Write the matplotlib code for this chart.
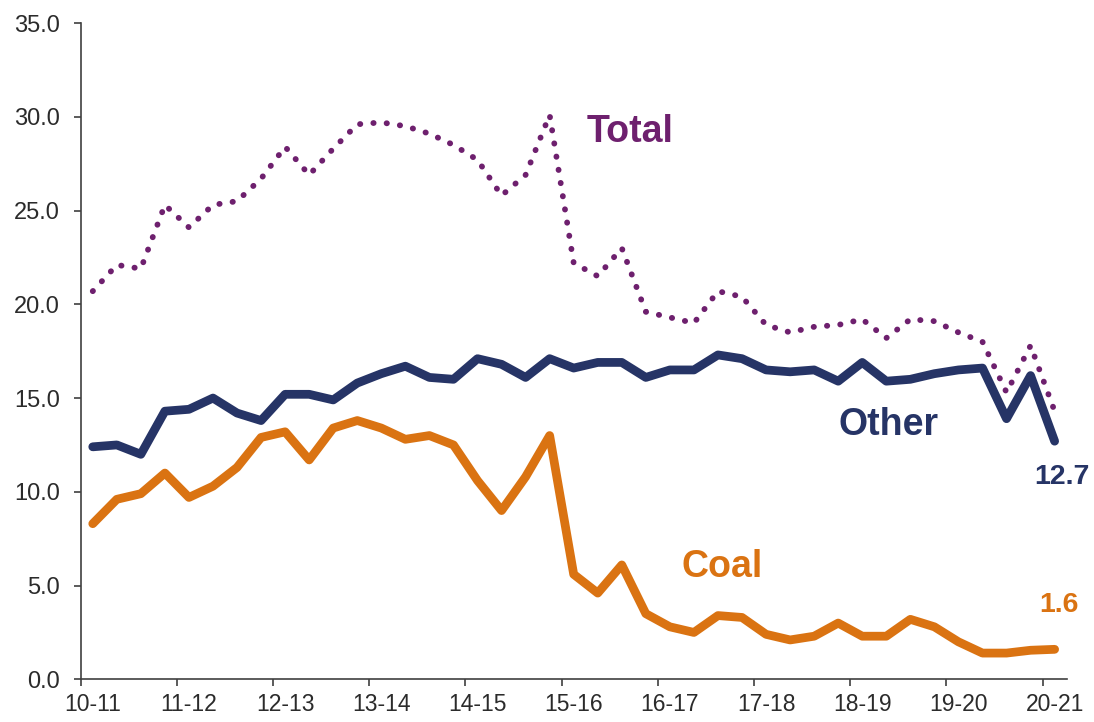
import numpy as np
import matplotlib.pyplot as plt

# quarterly values, 2010-11 Q1 to 2020-21 Q1
years = ['10-11', '11-12', '12-13', '13-14', '14-15', '15-16',
         '16-17', '17-18', '18-19', '19-20', '20-21']

coal = [8.3, 9.6, 9.9, 11.0, 9.7, 10.3, 11.3, 12.9, 13.2, 11.7,
        13.4, 13.8, 13.4, 12.8, 13.0, 12.5, 10.6, 9.0, 10.8, 13.0,
        5.6, 4.6, 6.1, 3.5, 2.8, 2.5, 3.4, 3.3, 2.4, 2.1,
        2.3, 3.0, 2.3, 2.3, 3.2, 2.8, 2.0, 1.4, 1.4, 1.55, 1.6]

other = [12.4, 12.5, 12.0, 14.3, 14.4, 15.0, 14.2, 13.8, 15.2, 15.2,
         14.9, 15.8, 16.3, 16.7, 16.1, 16.0, 17.1, 16.8, 16.1, 17.1,
         16.6, 16.9, 16.9, 16.1, 16.5, 16.5, 17.3, 17.1, 16.5, 16.4,
         16.5, 15.9, 16.9, 15.9, 16.0, 16.3, 16.5, 16.6, 13.9, 16.2, 12.7]

total = [20.7, 22.1, 21.9, 25.3, 24.1, 25.3, 25.5, 26.7, 28.4, 26.9,
         28.3, 29.6, 29.7, 29.5, 29.1, 28.5, 27.7, 25.8, 26.9, 30.1,
         22.2, 21.5, 23.0, 19.6, 19.3, 19.0, 20.7, 20.4, 18.9, 18.5,
         18.8, 18.9, 19.2, 18.2, 19.2, 19.1, 18.5, 18.0, 15.3, 17.8, 14.3]

c_coal = '#DA7312'
c_other = '#263466'
c_total = '#6E206E'
c_text = '#2b2b2b'

plt.rcParams['font.family'] = ['Liberation Sans', 'DejaVu Sans']

x = np.arange(len(coal))

fig = plt.figure(figsize=(10.94, 7.22), dpi=100)
ax = fig.add_axes([0.0738, 0.0591, 0.9012, 0.9090])

ax.plot(x, coal, color=c_coal, lw=6.3, solid_capstyle='round', solid_joinstyle='round')
ax.plot(x, other, color=c_other, lw=6.3, solid_capstyle='round', solid_joinstyle='round')
ax.plot(x, total, color=c_total, lw=4.2, linestyle=(0, (0.05, 2.24)),
        dash_capstyle='round')

ax.set_xlim(-0.5, len(coal) - 0.5)
ax.set_ylim(0, 35)

# year labels under the first quarter, tick marks on year boundaries
ax.set_xticks(np.arange(0, len(coal), 4))
ax.set_xticklabels(years)
ax.set_xticks(np.arange(-0.5, len(coal), 4), minor=True)
ax.tick_params(axis='x', which='major', length=0, pad=10, labelsize=16.5, labelcolor=c_text)
ax.tick_params(axis='x', which='minor', length=5, width=1.2, direction='out', color='#404040')

ax.set_yticks(np.arange(0, 36, 5))
ax.set_yticklabels([f'{v:.1f}' for v in np.arange(0, 36, 5)])
ax.tick_params(axis='y', length=5, width=1.2, direction='out', pad=10,
               labelsize=17, labelcolor=c_text, color='#404040')

for s in ['top', 'right']:
    ax.spines[s].set_visible(False)
for s in ['left', 'bottom']:
    ax.spines[s].set_linewidth(1.2)
    ax.spines[s].set_color('#404040')

# series names and latest values
ax.text(20.55, 29.2, 'Total', color=c_total, fontsize=27, fontweight='bold', ha='left', va='center')
ax.text(31.0, 13.57, 'Other', color=c_other, fontsize=27, fontweight='bold', ha='left', va='center')
ax.text(24.5, 6.0, 'Coal', color=c_coal, fontsize=27, fontweight='bold', ha='left', va='center')
ax.text(40.32, 10.77, f'{other[-1]:.1f}', color=c_other, fontsize=20.5, fontweight='bold',
        ha='center', va='center', clip_on=False)
ax.text(40.18, 3.96, f'{coal[-1]:.1f}', color=c_coal, fontsize=20.5, fontweight='bold',
        ha='center', va='center', clip_on=False)

fig.savefig('out.png', dpi=100)
